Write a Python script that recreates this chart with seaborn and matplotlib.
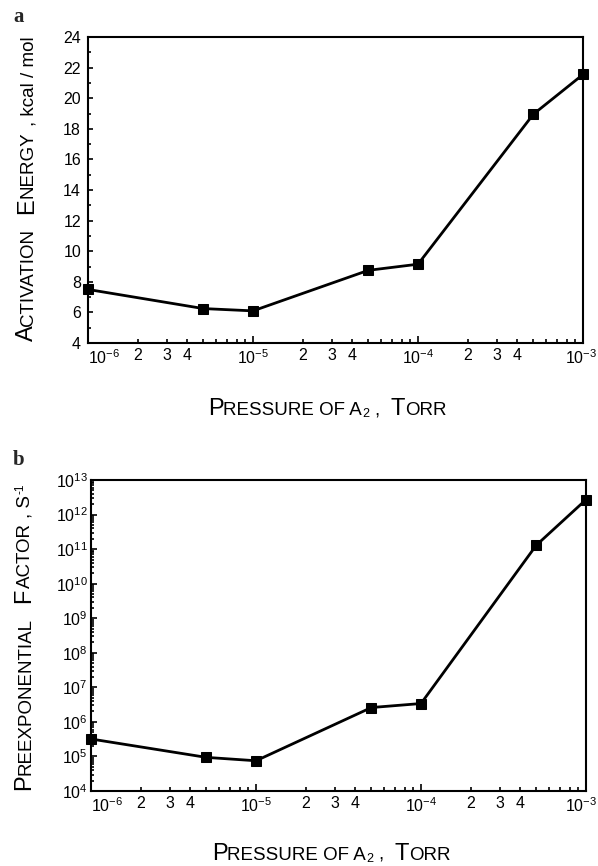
import numpy as np
import pandas as pd
import matplotlib
matplotlib.use("Agg")
import matplotlib.pyplot as plt
import seaborn as sns
from matplotlib.ticker import FixedLocator, FixedFormatter, NullFormatter
from matplotlib.transforms import IdentityTransform, ScaledTranslation

# ---------------- data ----------------
pressure = [1e-6, 5e-6, 1e-5, 5e-5, 1e-4, 5e-4, 1e-3]           # Torr
activation_energy = [7.5, 6.25, 6.1, 8.75, 9.15, 18.95, 21.55]   # kcal/mol
preexp_factor = [3.2e5, 9.4e4, 7.5e4, 2.6e6, 3.4e6, 1.3e11, 2.7e12]  # s^-1

x_major = [1e-6, 1e-5, 1e-4, 1e-3]
x_major_labels = [r"$\mathregular{10^{-6}}$", r"$\mathregular{10^{-5}}$",
                  r"$\mathregular{10^{-4}}$", r"$\mathregular{10^{-3}}$"]
x_minor_mult = [2, 3, 4, 5, 6, 7, 8, 9]
x_minor_labelled = [2, 3, 4]

ea_major = [4, 6, 8, 10, 12, 14, 16, 18, 20, 22, 24]
ea_minor = [5, 7, 9, 11, 13, 15, 17, 19, 21, 23]
a_exponents = [4, 5, 6, 7, 8, 9, 10, 11, 12, 13]

df = pd.DataFrame({"pressure": pressure, "Ea": activation_energy, "A": preexp_factor})

# ---------------- style ----------------
sns.set_style("ticks")
plt.rcParams["font.family"] = ["Liberation Sans", "DejaVu Sans"]
plt.rcParams["axes.linewidth"] = 1.5

W, H = 598, 866
fig = plt.figure(figsize=(W / 100, H / 100), dpi=100)
fig.patch.set_facecolor("white")

def px_axes(l, t, r, b):
    return fig.add_axes([l / W, 1 - b / H, (r - l) / W, (b - t) / H])

ax1 = px_axes(88, 37, 583, 343)
ax2 = px_axes(91, 480, 586, 791)

line_kw = dict(color="black", linewidth=2.0, marker="s", markersize=6.5,
               markeredgecolor="black", markerfacecolor="black", clip_on=False)

for ax in (ax1, ax2):
    ax.set_xscale("log")
ax2.set_yscale("log")

sns.lineplot(data=df, x="pressure", y="Ea", ax=ax1, estimator=None, **line_kw)
sns.lineplot(data=df, x="pressure", y="A", ax=ax2, estimator=None, **line_kw)

minor_x = [m * d for d in x_major[:-1] for m in x_minor_mult]
minor_x_labels = [str(m) if m in x_minor_labelled else "" for d in x_major[:-1] for m in x_minor_mult]

TICK_FS = 11.5
for ax in (ax1, ax2):
    ax.set_xlim(1e-6, 1e-3)
    ax.xaxis.set_major_locator(FixedLocator(x_major))
    ax.xaxis.set_major_formatter(FixedFormatter(x_major_labels))
    ax.xaxis.set_minor_locator(FixedLocator(minor_x))
    ax.xaxis.set_minor_formatter(FixedFormatter(minor_x_labels))
    ax.set_xlabel("")
    ax.set_ylabel("")
    for sp in ax.spines.values():
        sp.set_visible(True)
        sp.set_color("black")
        sp.set_linewidth(1.5)
    ax.tick_params(axis="both", which="both", direction="in", top=False, right=False,
                   colors="black", labelsize=TICK_FS, width=1.2)
    ax.tick_params(axis="x", which="major", length=5, pad=3.5)
    ax.tick_params(axis="x", which="minor", length=3, pad=3.5)

ax1.set_ylim(4, 24)
ax1.yaxis.set_major_locator(FixedLocator(ea_major))
ax1.yaxis.set_major_formatter(FixedFormatter([str(v) for v in ea_major]))
ax1.yaxis.set_minor_locator(FixedLocator(ea_minor))
ax1.tick_params(axis="y", which="major", length=3.5, pad=5)
ax1.tick_params(axis="y", which="minor", length=2.5)

a_major = [10.0 ** e for e in a_exponents]
ax2.set_ylim(1e4, 1e13)
ax2.yaxis.set_major_locator(FixedLocator(a_major))
ax2.yaxis.set_major_formatter(FixedFormatter([r"$\mathregular{10^{%d}}$" % e for e in a_exponents]))
ax2.yaxis.set_minor_locator(FixedLocator([m * 10.0 ** e for e in a_exponents[:-1] for m in range(2, 10)]))
ax2.yaxis.set_minor_formatter(NullFormatter())
ax2.tick_params(axis="y", which="major", length=4, pad=2.5)
ax2.tick_params(axis="y", which="minor", length=2.5)

# first x tick label sits to the right of the corner, as in the reference;
# last one nudged so it stays inside the figure
for ax, shift in ((ax1, -1.5), (ax2, -4.5)):
    ticks = ax.xaxis.get_major_ticks()
    ticks[0].label1.set_horizontalalignment("left")
    lbl = ticks[-1].label1
    lbl.set_transform(lbl.get_transform() + ScaledTranslation(shift / 100, 0, fig.dpi_scale_trans))

# ---------------- small-caps labels ----------------
renderer = fig.canvas.get_renderer()

def small_caps(pieces, x_px, y_px, rotation=0):
    """pieces: (text, fontsize, gap_after_px, baseline_shift_px). Centered on x (or y if rotated)."""
    arts = []
    total = 0.0
    for s, size, gap, dy in pieces:
        t = fig.text(0, 0, s, fontsize=size, rotation=rotation, rotation_mode="anchor",
                     ha="left", va="baseline", transform=IdentityTransform(), color="black")
        bb = t.get_window_extent(renderer)
        ext = bb.width if rotation == 0 else bb.height
        arts.append((t, ext, gap, dy))
        total += ext + gap
    total -= arts[-1][2]
    pos = -total / 2
    for t, ext, gap, dy in arts:
        if rotation == 0:
            t.set_position((x_px + pos, H - y_px + dy))
        else:
            t.set_position((x_px - dy, H - y_px + pos))
        pos += ext + gap

BIG, SMALL = 17, 13.5
xlabel_pieces = [("P", BIG, 0, 0), ("RESSURE OF A", SMALL, 0, 0), ("2", 9, 5, -2),
                 (",", SMALL, 11, 0), ("T", BIG, 0, 0), ("ORR", SMALL, 0, 0)]
small_caps(xlabel_pieces, 327, 415)
small_caps(xlabel_pieces, 331, 860)

ylabel1 = [("A", BIG, 0, 0), ("CTIVATION", SMALL, 15, 0), ("E", BIG, 0, 0),
           ("NERGY", SMALL, 5, 0), (", kcal / mol", SMALL, 0, 0)]
small_caps(ylabel1, 33, 189, rotation=90)

ylabel2 = [("P", BIG, 0, 0), ("REEXPONENTIAL", SMALL, 15, 0), ("F", BIG, 0, 0),
           ("ACTOR", SMALL, 5, 0), (", S", SMALL, 1, 0), ("-1", 8.5, 0, 7)]
small_caps(ylabel2, 30, 637, rotation=90)

# panel letters
fig.text(13 / W, 1 - 22 / H, "a", fontsize=15, fontweight="bold",
         family=["Liberation Serif", "DejaVu Serif"], ha="left", va="baseline")
fig.text(13 / W, 1 - 465 / H, "b", fontsize=15, fontweight="bold",
         family=["Liberation Serif", "DejaVu Serif"], ha="left", va="baseline")

fig.savefig("out.png", dpi=100)
